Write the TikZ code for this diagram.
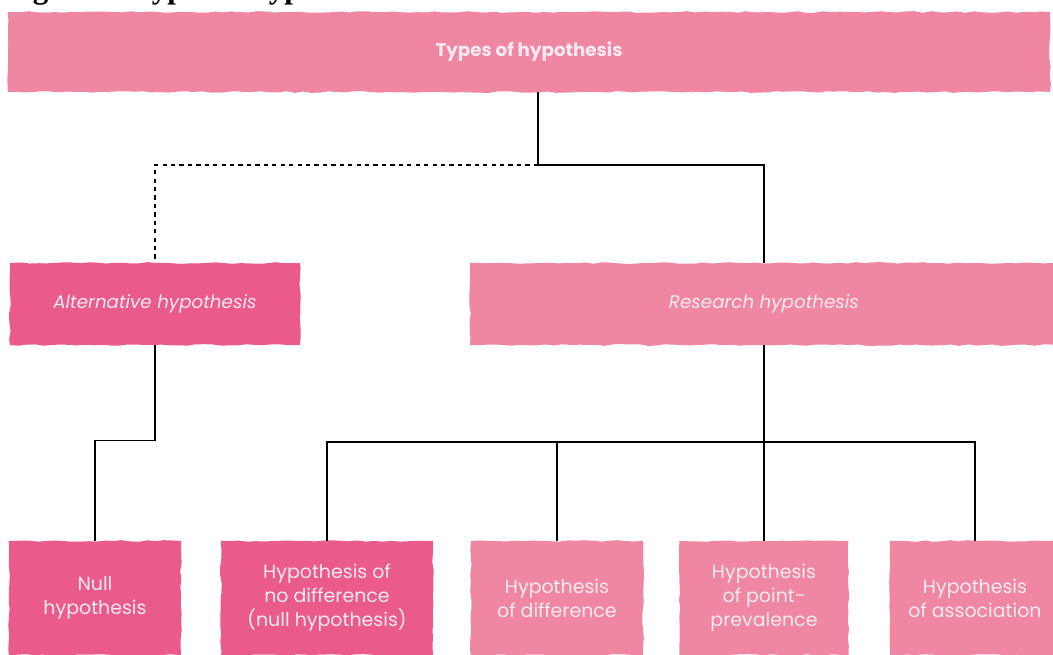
\documentclass[tikz,border=0pt]{standalone}
\usepackage{fontspec}
\setmainfont{Liberation Serif}
\newfontfamily\hypfont{Poppins}
\usetikzlibrary{decorations.pathmorphing}
\definecolor{hypdeep}{HTML}{EA5A8B}
\definecolor{hyplight}{HTML}{EF87A2}
\definecolor{hyptext}{HTML}{FBEAF1}

\begin{document}
\pgfmathsetseed{7}
\begin{tikzpicture}[
	x=0.025cm, y=-0.025cm,
	hypbox/.style={rectangle, inner sep=0pt, align=center, text=hyptext,
		font=\hypfont\fontsize{13.5}{17}\selectfont,
		decorate, decoration={random steps, segment length=6pt, amplitude=0.6pt}},
	deepbox/.style={hypbox, fill=hypdeep},
	lightbox/.style={hypbox, fill=hyplight},
	wide/.style={minimum height=2.05cm, font=\hypfont\itshape\fontsize{13}{16}\selectfont},
	low/.style={minimum height=2.85cm},
	link/.style={line width=0.8pt, black},
	]
	\clip (0,0) rectangle (1053,654);
	% caption, cut by the edge of the page
	\node[anchor=base west, inner sep=0pt, font=\bfseries\fontsize{22}{26}\selectfont] (caption) at (5,-2) {Figure 1. Types of hypothesis};

	\node[lightbox, minimum width=26.05cm, minimum height=2cm, font=\hypfont\bfseries\fontsize{13}{16}\selectfont] (types) at (529,52) {\raisebox{-3pt}{Types of hypothesis}};
	\node[deepbox, wide, minimum width=7.25cm] (alt) at (155,304) {Alternative hypothesis};
	\node[lightbox, wide, minimum width=14.7cm] (research) at (764,304) {Research hypothesis};

	\node[deepbox, low, minimum width=4.3cm] (null) at (95,598) {Null\\hypothesis};
	\node[deepbox, low, minimum width=5.3cm] (nodiff) at (327,598) {Hypothesis of\\no difference\\(null hypothesis)};
	\node[lightbox, low, minimum width=4.3cm] (diff) at (557,598) {Hypothesis\\of difference};
	\node[lightbox, low, minimum width=4.225cm] (prev) at (764,598) {Hypothesis\\of point-\\prevalence};
	\node[lightbox, low, minimum width=4.25cm] (assoc) at (975,598) {Hypothesis\\of association};

	\coordinate (fork) at (538,165);
	\coordinate (bus) at (0,442);
	\draw[link] (types.south -| fork) -- (fork) -| (research.north);
	\draw[link, dashed] (fork) -| (alt.north);
	\draw[link] (alt.south) -- ++(0,95) -| (null.north);
	\draw[link] (research.south) -- (prev.north);
	\draw[link] (nodiff.north) -- (nodiff.north |- bus) -- (assoc.north |- bus) -- (assoc.north);
	\draw[link] (diff.north |- bus) -- (diff.north);
\end{tikzpicture}
\end{document}
